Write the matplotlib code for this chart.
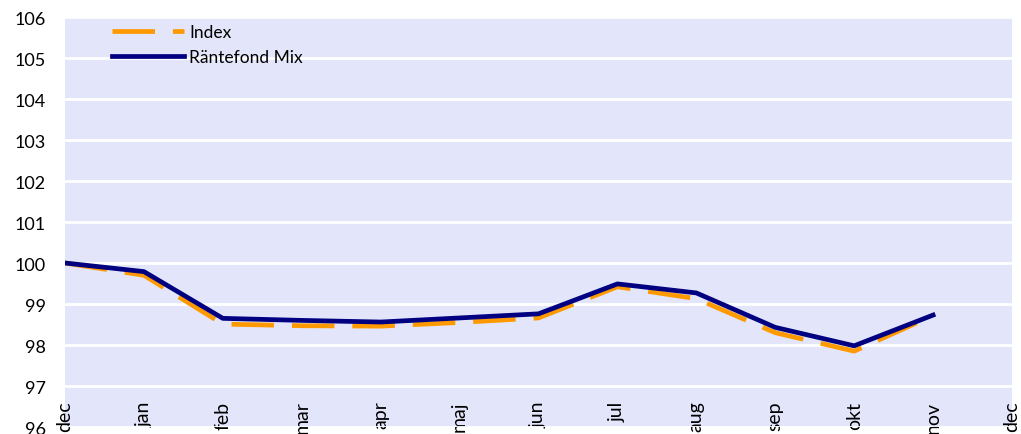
import numpy as np
import matplotlib.pyplot as plt

plt.rcParams['font.family'] = ['Lato', 'DejaVu Sans']

months = ["dec", "jan", "feb", "mar", "apr", "maj", "jun",
          "jul", "aug", "sep", "okt", "nov", "dec"]
index_vals = [100.0, 99.70, 98.51, 98.47, 98.46, 98.55, 98.66,
              99.42, 99.13, 98.30, 97.85, 98.72]
fund_vals = [100.0, 99.79, 98.65, 98.60, 98.56, 98.66, 98.76,
             99.49, 99.27, 98.43, 97.98, 98.73]

fig = plt.figure(figsize=(10.21, 4.35), dpi=100)
ax = fig.add_axes([65 / 1021, 7 / 435, 947 / 1021, 410 / 435])
ax.set_facecolor('#E3E5FA')

x = np.arange(len(index_vals))
ax.plot(x, index_vals, color='#FF9900', lw=3.4, dashes=(9, 3.8),
        solid_capstyle='butt', label='Index')
ax.plot(x, fund_vals, color='#000080', lw=3.4, label='Räntefond Mix')

ax.set_xlim(0, len(months) - 1)
ax.set_ylim(96, 106)
ax.set_yticks(range(96, 107))
ax.set_xticks(range(len(months)))
ax.set_xticklabels(months, rotation=90)
ax.tick_params(axis='x', length=0, pad=-19, labelsize=14)
ax.tick_params(axis='y', length=0, pad=14, labelsize=13)
ax.grid(axis='y', color='white', lw=2)
ax.set_axisbelow(True)
for s in ax.spines.values():
    s.set_visible(False)

ax.legend(loc='upper left', bbox_to_anchor=(0.033, 1.02), frameon=False,
          handlelength=4.15, fontsize=12.5, handletextpad=0.3,
          labelspacing=0.5)

fig.savefig('out.png')
